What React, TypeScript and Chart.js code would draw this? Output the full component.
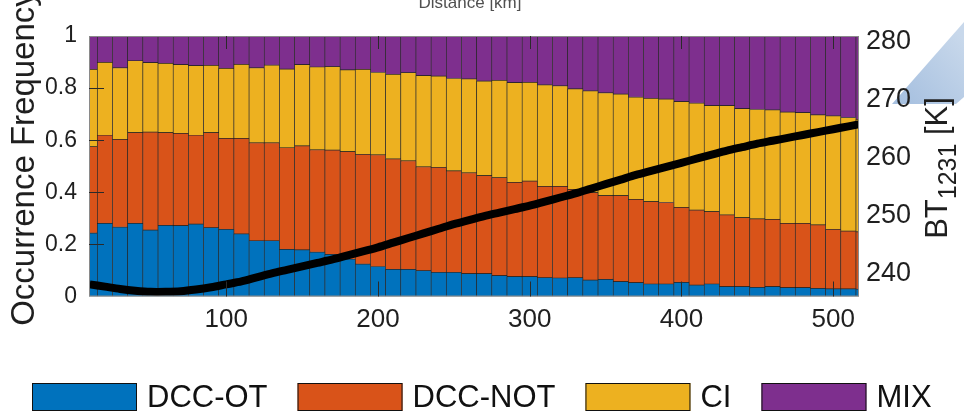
import React, { useEffect, useRef } from 'react';
import { Chart, registerables } from 'chart.js';

Chart.register(...registerables);

// ---------- data ----------
const DISTANCE_KM = [
  10, 20, 30, 40, 50, 60, 70, 80, 90, 100, 110, 120, 130, 140, 150, 160, 170, 180, 190, 200,
  210, 220, 230, 240, 250, 260, 270, 280, 290, 300, 310, 320, 330, 340, 350, 360, 370, 380, 390, 400,
  410, 420, 430, 440, 450, 460, 470, 480, 490, 500, 510, 520,
];

const DCC_OT = [
  0.243, 0.281, 0.266, 0.281, 0.255, 0.273, 0.272, 0.278, 0.264, 0.258, 0.240, 0.214, 0.214, 0.181, 0.179, 0.170, 0.162, 0.143, 0.124, 0.115,
  0.104, 0.104, 0.099, 0.093, 0.093, 0.088, 0.088, 0.080, 0.076, 0.076, 0.072, 0.071, 0.072, 0.063, 0.066, 0.057, 0.053, 0.048, 0.048, 0.054,
  0.044, 0.048, 0.038, 0.038, 0.035, 0.038, 0.034, 0.034, 0.031, 0.029, 0.029, 0.028,
];

const DCC_NOT = [
  0.332, 0.338, 0.337, 0.348, 0.376, 0.356, 0.354, 0.341, 0.365, 0.349, 0.367, 0.376, 0.376, 0.390, 0.399, 0.393, 0.400, 0.413, 0.422, 0.429,
  0.424, 0.417, 0.399, 0.403, 0.389, 0.387, 0.376, 0.376, 0.362, 0.367, 0.351, 0.352, 0.339, 0.336, 0.321, 0.330, 0.320, 0.316, 0.313, 0.288,
  0.288, 0.278, 0.275, 0.265, 0.263, 0.258, 0.247, 0.247, 0.244, 0.229, 0.222, 0.220,
];

const CI = [
  0.297, 0.280, 0.275, 0.276, 0.267, 0.266, 0.264, 0.267, 0.258, 0.269, 0.284, 0.288, 0.298, 0.302, 0.312, 0.318, 0.320, 0.314, 0.326, 0.316,
  0.325, 0.338, 0.350, 0.350, 0.355, 0.360, 0.363, 0.374, 0.383, 0.379, 0.389, 0.386, 0.386, 0.390, 0.395, 0.390, 0.392, 0.397, 0.397, 0.406,
  0.410, 0.407, 0.420, 0.418, 0.420, 0.420, 0.427, 0.425, 0.422, 0.435, 0.436, 0.432,
];

const MIX = [
  0.128, 0.101, 0.122, 0.095, 0.102, 0.105, 0.110, 0.114, 0.113, 0.124, 0.109, 0.122, 0.112, 0.127, 0.110, 0.120, 0.118, 0.130, 0.128, 0.140,
  0.147, 0.141, 0.152, 0.154, 0.163, 0.165, 0.173, 0.170, 0.179, 0.178, 0.188, 0.191, 0.203, 0.211, 0.218, 0.223, 0.235, 0.239, 0.242, 0.252,
  0.258, 0.267, 0.267, 0.279, 0.282, 0.284, 0.292, 0.294, 0.303, 0.307, 0.313, 0.320,
];

const BT1231 = [
  238.1, 237.7, 237.3, 237.0, 236.8, 236.8, 236.9, 237.2, 237.6, 238.1, 238.6, 239.3, 240.0, 240.6, 241.2, 241.8, 242.4, 243.1, 243.8, 244.5,
  245.3, 246.1, 246.9, 247.7, 248.5, 249.2, 249.9, 250.5, 251.1, 251.7, 252.4, 253.1, 253.8, 254.6, 255.4, 256.2, 257.0, 257.7, 258.4, 259.1,
  259.8, 260.5, 261.2, 261.8, 262.4, 262.9, 263.4, 263.9, 264.4, 264.9, 265.4, 265.9,
];

const SERIES_NAMES = ['DCC-OT', 'DCC-NOT', 'CI', 'MIX'];
const SERIES_COLORS = ['#0072BD', '#D95319', '#EDB120', '#7E2F8E'];
const FREQ_TICKS = [0, 0.2, 0.4, 0.6, 0.8, 1];
const DIST_TICKS = [100, 200, 300, 400, 500];
const BT_TICKS = [240, 250, 260, 270, 280];

const FONT = '"Liberation Sans", Arial, Helvetica, sans-serif';
const TEXT = '#1f1f1f';

const decorPlugin = {
  id: 'decor',
  beforeDraw(chart: any) {
    const ctx = chart.ctx;
    ctx.save();
    // light blue wedge at top right (part of the original figure)
    const g = ctx.createLinearGradient(895, 100, 964, 40);
    g.addColorStop(0, '#a5bfdf');
    g.addColorStop(1, '#c8d8eb');
    ctx.fillStyle = g;
    ctx.beginPath();
    ctx.moveTo(892, 104);
    ctx.lineTo(964, 22);
    ctx.lineTo(964, 97);
    ctx.lineTo(956, 104);
    ctx.closePath();
    ctx.fill();
    ctx.restore();
  },
  afterDatasetsDraw(chart: any) {
    const ctx = chart.ctx;
    const { left, right, top, bottom } = chart.chartArea;
    const xs = chart.scales.x;
    const ys = chart.scales.y;
    ctx.save();
    // frame
    ctx.strokeStyle = '#8a8a8a';
    ctx.lineWidth = 1;
    ctx.strokeRect(left + 0.5, top + 0.5, right - left - 1, bottom - top - 1);
    // inward tick marks
    ctx.strokeStyle = '#2a2a2a';
    ctx.beginPath();
    FREQ_TICKS.forEach((v) => {
      if (v <= 0 || v >= 1) return;
      const y = Math.round(ys.getPixelForValue(v)) + 0.5;
      ctx.moveTo(left, y);
      ctx.lineTo(left + 15, y);
    });
    DIST_TICKS.forEach((v) => {
      const x = Math.round(xs.getPixelForValue(v)) + 0.5;
      ctx.moveTo(x, bottom);
      ctx.lineTo(x, bottom - 15);
      ctx.moveTo(x, top);
      ctx.lineTo(x, top + 13);
    });
    ctx.stroke();

    // left axis title (top cut off by the image edge)
    ctx.fillStyle = TEXT;
    ctx.save();
    ctx.translate(34, 158);
    ctx.rotate(-Math.PI / 2);
    ctx.font = `33px ${FONT}`;
    ctx.textAlign = 'center';
    ctx.textBaseline = 'alphabetic';
    ctx.fillText('Occurrence Frequency', 0, 0);
    ctx.restore();

    // right axis title with subscript
    ctx.save();
    ctx.translate(947, 168);
    ctx.rotate(-Math.PI / 2);
    ctx.textBaseline = 'alphabetic';
    ctx.textAlign = 'left';
    const big = `31px ${FONT}`;
    const small = `25px ${FONT}`;
    ctx.font = big;
    const wBT = ctx.measureText('BT').width;
    const wK = ctx.measureText(' [K]').width;
    ctx.font = small;
    const wSub = ctx.measureText('1231').width;
    let tx = -(wBT + wSub + wK) / 2;
    ctx.font = big;
    ctx.fillText('BT', tx, 0);
    tx += wBT;
    ctx.font = small;
    ctx.fillText('1231', tx, 9);
    tx += wSub;
    ctx.font = big;
    ctx.fillText(' [K]', tx, 0);
    ctx.restore();

    // cut-off title of the panel above
    ctx.fillStyle = '#505050';
    ctx.font = `17px ${FONT}`;
    ctx.textAlign = 'center';
    ctx.textBaseline = 'alphabetic';
    ctx.fillText('Distance [km]', 470, 8);

    // legend
    ctx.font = `31px ${FONT}`;
    ctx.textAlign = 'left';
    let lx = 32;
    const by = 383;
    SERIES_NAMES.forEach((name, i) => {
      ctx.fillStyle = SERIES_COLORS[i];
      ctx.fillRect(lx, by, 105, 28);
      ctx.strokeStyle = '#111';
      ctx.lineWidth = 1;
      ctx.strokeRect(lx + 0.5, by + 0.5, 104, 27);
      ctx.fillStyle = '#111';
      ctx.fillText(name, lx + 115, 407);
      lx += 115 + ctx.measureText(name).width + 30;
    });
    ctx.restore();
  },
};

export default function App() {
  const ref = useRef<HTMLCanvasElement | null>(null);

  useEffect(() => {
    if (!ref.current) return;
    const barSets = [DCC_OT, DCC_NOT, CI, MIX].map((vals, i) => ({
      type: 'bar' as const,
      label: SERIES_NAMES[i],
      data: DISTANCE_KM.map((x, j) => ({ x, y: vals[j] })),
      backgroundColor: SERIES_COLORS[i],
      borderColor: 'rgba(20,20,20,0.85)',
      borderWidth: 0.7,
      borderSkipped: false,
      barPercentage: 1,
      categoryPercentage: 1,
      stack: 'freq',
      xAxisID: 'x',
      yAxisID: 'y',
      clip: 0,
      order: 1,
    }));
    const line = {
      type: 'line' as const,
      label: 'BT1231',
      data: DISTANCE_KM.map((x, j) => ({ x, y: BT1231[j] })),
      borderColor: '#000',
      backgroundColor: '#000',
      borderWidth: 8,
      pointRadius: 0,
      tension: 0.3,
      borderJoinStyle: 'round',
      xAxisID: 'x',
      yAxisID: 'y1',
      clip: 0,
      order: -1,
    };

    const chart = new Chart(ref.current, {
      type: 'bar',
      data: { datasets: [...barSets, line] as any },
      options: {
        animation: false,
        responsive: false,
        devicePixelRatio: 1,
        layout: { padding: { top: 36, left: 0, right: 0, bottom: 0 } },
        plugins: {
          legend: { display: false },
          tooltip: { enabled: false },
          title: { display: false },
        },
        scales: {
          x: {
            type: 'linear',
            position: 'bottom',
            min: 9.5,
            max: 517,
            offset: false,
            stacked: true,
            grid: { display: false, drawTicks: false, offset: false },
            border: { display: false },
            ticks: {
              font: { family: FONT, size: 26 },
              color: TEXT,
              padding: 8,
              maxRotation: 0,
              autoSkip: false,
              callback: (v: any) => String(v),
            },
            afterBuildTicks: (s: any) => {
              s.ticks = DIST_TICKS.map((v) => ({ value: v }));
            },
            afterFit: (s: any) => {
              s.height = 115.5;
            },
          },
          y: {
            type: 'linear',
            position: 'left',
            min: 0,
            max: 1,
            stacked: true,
            grid: { display: false, drawTicks: false },
            border: { display: false },
            ticks: {
              font: { family: FONT, size: 23 },
              color: TEXT,
              padding: 12,
              callback: (v: any) => String(v),
            },
            afterBuildTicks: (s: any) => {
              s.ticks = FREQ_TICKS.map((v) => ({ value: v }));
            },
            afterFit: (s: any) => {
              s.width = 89;
            },
          },
          y1: {
            type: 'linear',
            position: 'right',
            min: 236,
            max: 281,
            grid: { display: false, drawTicks: false },
            border: { display: false },
            ticks: {
              font: { family: FONT, size: 27 },
              color: TEXT,
              padding: 7,
              callback: (v: any) => String(v),
            },
            afterBuildTicks: (s: any) => {
              s.ticks = BT_TICKS.map((v) => ({ value: v }));
            },
            afterFit: (s: any) => {
              s.width = 105;
            },
          },
        },
      } as any,
      plugins: [decorPlugin],
    });
    return () => chart.destroy();
  }, []);

  return (
    <div style={{ position: 'fixed', left: 0, top: 0, width: 964, height: 412, background: '#fff' }}>
      <canvas ref={ref} width={964} height={412} style={{ display: 'block', width: 964, height: 412 }} />
    </div>
  );
}
